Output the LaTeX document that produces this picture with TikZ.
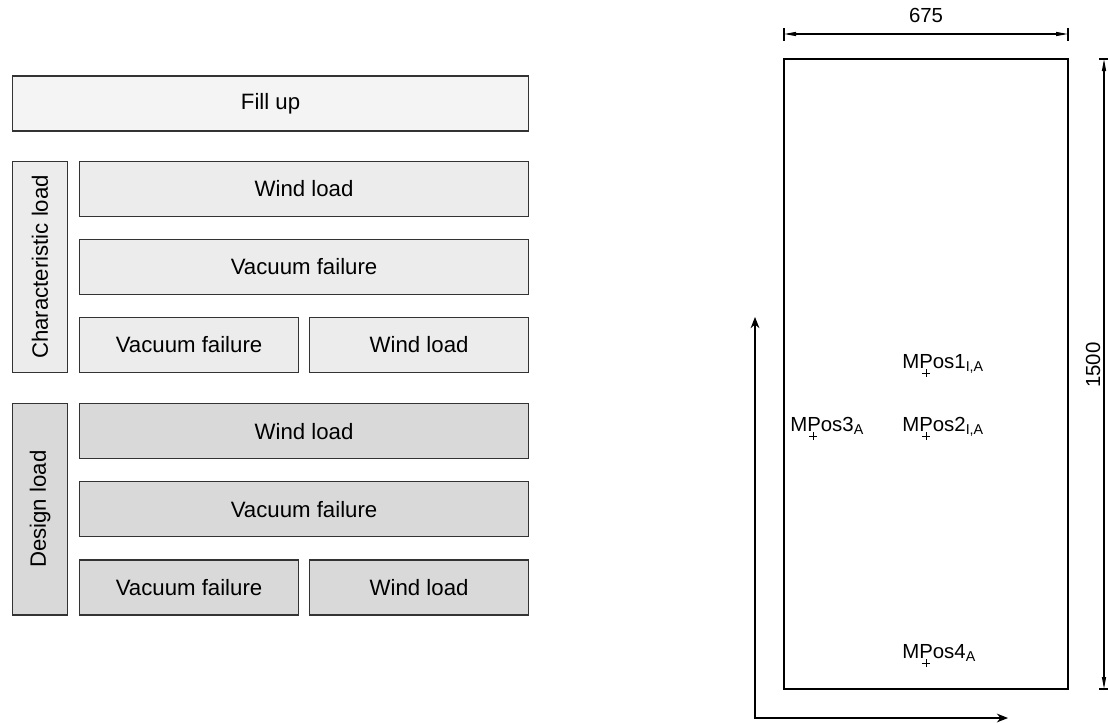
\documentclass[tikz,border=0pt]{standalone}
\usepackage{fontspec}
\setmainfont{Liberation Sans}
\usetikzlibrary{arrows.meta,positioning}
\definecolor{fillupcolor}{HTML}{F4F4F4}
\definecolor{charcolor}{HTML}{ECECEC}
\definecolor{designcolor}{HTML}{D9D9D9}
\definecolor{edgecolor}{HTML}{333333}

\begin{document}
\begin{tikzpicture}[
  x=0.025cm, y=-0.025cm,
  loadbox/.style={draw=edgecolor, line width=1.1pt, outer sep=0pt, minimum height=1.375cm, inner sep=0pt, font=\fontsize{15.8}{19}\selectfont},
  widebox/.style={loadbox, minimum width=11.225cm},
  halfbox/.style={loadbox, minimum width=5.475cm},
  sidebox/.style={loadbox, minimum width=1.375cm, minimum height=5.275cm},
  dimline/.style={{Triangle[length=0.3cm,width=0.1cm]}-{Triangle[length=0.3cm,width=0.1cm]}, line width=0.8pt},
  poslabel/.style={anchor=base west, inner sep=0pt, font=\fontsize{14.5}{17}\selectfont},
  dimlabel/.style={font=\fontsize{14.5}{17}\selectfont},
  axisarrow/.style={{Stealth[length=0.28cm,width=0.22cm]}-{Stealth[length=0.28cm,width=0.22cm]}, line width=0.8pt},
  node distance=0.575cm and 0.275cm
]
  \useasboundingbox (0,0) rectangle (1108,722);

  % load cases
  \node[loadbox, fill=fillupcolor, minimum width=12.9cm, anchor=north west] (fill) at (12.5,76) {Fill up};

  \node[sidebox, fill=charcolor, below right=0.76cm and 0cm of fill.south west] (charside) {\rotatebox{90}{Characteristic load}};
  \node[widebox, fill=charcolor, below right=0cm and 0.3cm of charside.north east] (cwind) {Wind load};
  \node[widebox, fill=charcolor, below=of cwind] (cvac) {Vacuum failure};
  \node[halfbox, fill=charcolor, below right=0.575cm and 0cm of cvac.south west] (cvac2) {Vacuum failure};
  \node[halfbox, fill=charcolor, right=of cvac2] (cwind2) {Wind load};

  \node[sidebox, fill=designcolor, below=0.78cm of charside] (designside) {\rotatebox{90}{Design load}};
  \node[widebox, fill=designcolor, below right=0cm and 0.3cm of designside.north east] (dwind) {Wind load};
  \node[widebox, fill=designcolor, below=of dwind] (dvac) {Vacuum failure};
  \node[halfbox, fill=designcolor, below right=0.575cm and 0cm of dvac.south west] (dvac2) {Vacuum failure};
  \node[halfbox, fill=designcolor, right=of dvac2] (dwind2) {Wind load};

  % plate with measuring positions
  \coordinate (pnw) at (784,59);
  \coordinate (pse) at (1068,689);
  \draw[line width=1.2pt] (pnw) rectangle (pse);

  % dimensions
  \coordinate (dimw) at (784,34);
  \coordinate (dime) at (1068,34);
  \draw[line width=0.8pt] (784,28) -- (784,41) (1068,28) -- (1068,41);
  \draw[dimline] (dimw) -- (dime);
  \node[dimlabel] (widthlabel) at (926,15) {675};

  \coordinate (dimn) at (1104,59);
  \coordinate (dims) at (1104,689);
  \draw[line width=0.8pt] (1099,59) -- (1112,59) (1099,689) -- (1112,689);
  \draw[dimline] (dimn) -- (dims);
  \node[dimlabel, rotate=90] (heightlabel) at (1093,365) {1500};

  % measuring positions
  \coordinate (mp1) at (926,373);
  \coordinate (mp2) at (926,436);
  \coordinate (mp3) at (813,436);
  \coordinate (mp4) at (926,663);
  \foreach \p in {mp1,mp2,mp3,mp4}
    \draw[line width=0.6pt] (\p) +(-4,0) -- +(4,0) +(0,-4) -- +(0,4);
  \node[poslabel] (l1) at ([shift={(-24,-5)}]mp1) {MPos1\textsubscript{I,A}};
  \node[poslabel] (l2) at ([shift={(-24,-5)}]mp2) {MPos2\textsubscript{I,A}};
  \node[poslabel] (l3) at ([shift={(-23,-5)}]mp3) {MPos3\textsubscript{A}};
  \node[poslabel] (l4) at ([shift={(-24,-5)}]mp4) {MPos4\textsubscript{A}};

  % axes
  \coordinate (ytip) at (755,317);
  \coordinate (xtip) at (1008,718);
  \draw[axisarrow] (ytip) |- (xtip);
\end{tikzpicture}
\end{document}
